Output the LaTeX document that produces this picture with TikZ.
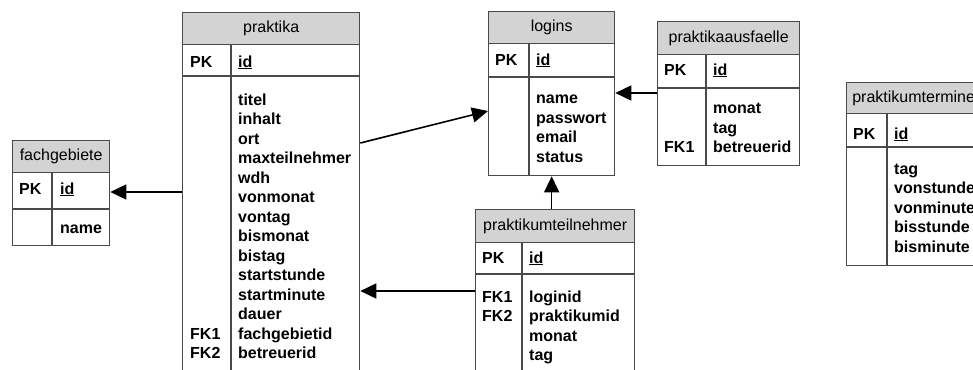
\documentclass[tikz,border=0pt]{standalone}
\usepackage{fontspec}
\setmainfont{Liberation Sans}
\usetikzlibrary{arrows.meta,calc}

\definecolor{tblline}{HTML}{4A4A4A}
\definecolor{tblhead}{HTML}{D3D3D3}

\tikzset{
  tbl/.style={draw=tblline, line width=1.3pt, fill=white, inner sep=0pt, anchor=north west},
  headcell/.style={draw=tblline, line width=1.3pt, fill=tblhead, inner sep=0pt,
    anchor=north west, font=\fontsize{16}{19}\selectfont},
  rowsep/.style={draw=tblline, line width=1.3pt},
  fld/.style={anchor=base west, inner sep=0pt, font=\fontsize{16}{19}\bfseries\selectfont},
  fk/.style={draw=black, line width=1.6pt, -{Triangle[length=16pt,width=15pt]}},
}

% entity box: name, title, x-left, x-right, y-top, y-header, y-key, y-bottom, x-divider
\newcommand\erbox[9]{%
  \node[tbl, minimum width={(#4-#3)*1pt}, minimum height={(#8-#5)*1pt}] (#1) at (#3,#5) {};
  \node[headcell, minimum width={(#4-#3)*1pt}, minimum height={(#6-#5)*1pt}] (#1-head) at (#3,#5) {#2};
  \draw[rowsep] (#3,#7) -- (#4,#7);
  \draw[rowsep] (#9,#6) -- (#9,#8);
}

\begin{document}
\begin{tikzpicture}[x=1pt, y=-1pt]
\useasboundingbox (0,0) rectangle (973,369);
\fill[white] (0,0) rectangle (973,369);
\clip (0,0) rectangle (973,369);

% fachgebiete
\erbox{fg}{fachgebiete}{12}{109}{140}{172}{209}{245}{52}
\node[fld] (fg-pk) at (19,194) {PK};
\node[fld] (fg-id) at (60,194) {\underline{id}};
\node[fld] (fg-f0) at (60,233) {name};

% praktika
\erbox{pr}{praktika}{182}{359}{12}{44}{76}{385}{231}
\node[fld] (pr-pk) at (190,67) {PK};
\node[fld] (pr-id) at (238,67) {\underline{id}};
\foreach \f [count=\i from 0] in {titel,inhalt,ort,maxteilnehmer,wdh,vonmonat,vontag,bismonat,bistag,startstunde,startminute,dauer,fachgebietid,betreuerid}
  \node[fld] (pr-f\i) at (238,{105+19.5*\i}) {\f};
\node[fld] (pr-fk1) at (190,{105+19.5*12}) {FK1};
\node[fld] (pr-fk2) at (190,{105+19.5*13}) {FK2};

% logins
\erbox{lg}{logins}{488}{614}{11}{43}{77}{175}{529}
\node[fld] (lg-pk) at (495,65) {PK};
\node[fld] (lg-id) at (536,65) {\underline{id}};
\foreach \f [count=\i from 0] in {name,passwort,email,status}
  \node[fld] (lg-f\i) at (536,{103.5+19.5*\i}) {\f};

% praktikaausfaelle
\erbox{pa}{praktikaausfaelle}{657}{799}{21}{54}{88}{165}{706}
\node[fld] (pa-pk) at (664,75) {PK};
\node[fld] (pa-id) at (713,75) {\underline{id}};
\foreach \f [count=\i from 0] in {monat,tag,betreuerid}
  \node[fld] (pa-f\i) at (713,{113.5+19.5*\i}) {\f};
\node[fld] (pa-fk1) at (664,{113.5+19.5*2}) {FK1};

% praktikumteilnehmer
\erbox{pt}{praktikumteilnehmer}{475}{634}{209}{242}{274}{385}{522}
\node[fld] (pt-pk) at (482,263) {PK};
\node[fld] (pt-id) at (529,263) {\underline{id}};
\foreach \f [count=\i from 0] in {loginid,praktikumid,monat,tag}
  \node[fld] (pt-f\i) at (529,{302+19.5*\i}) {\f};
\node[fld] (pt-fk1) at (482,302) {FK1};
\node[fld] (pt-fk2) at (482,321.5) {FK2};

% praktikumtermine
\erbox{tm}{praktikumtermine}{846}{980}{82}{113}{147}{265}{887}
\node[fld] (tm-pk) at (853,139) {PK};
\node[fld] (tm-id) at (894,139) {\underline{id}};
\foreach \f [count=\i from 0] in {tag,vonstunde,vonminute,bisstunde,bisminute}
  \node[fld] (tm-f\i) at (894,{174+19.5*\i}) {\f};

% foreign key references
\draw[fk] ($(pr.north west)+(0,180)$) -- ($(fg.north east)+(0,52)$);
\draw[fk] ($(pr.north east)+(0,131)$) -- ($(lg.north west)+(0,100)$);
\draw[fk] ($(pa.north west)+(0,72)$) -- ($(lg.north east)+(0,82)$);
\draw[fk] (pt.north -| lg.south) -- (lg.south);
\draw[fk] ($(pt.north west)+(0,82)$) -- ($(pr.north east)+(0,279)$);
\end{tikzpicture}
\end{document}
